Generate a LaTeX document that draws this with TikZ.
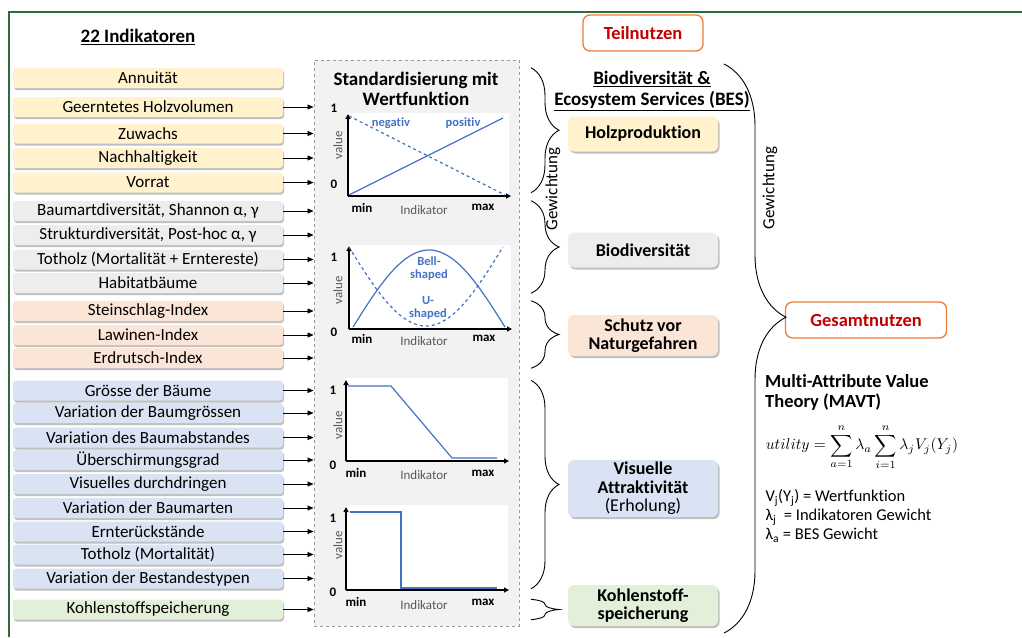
\documentclass[tikz,border=0pt]{standalone}
\usepackage{graphicx}
\usepackage{fontspec}
\setmainfont{Carlito}[Ligatures=NoCommon]
\usetikzlibrary{arrows.meta,shadows,decorations.pathreplacing}
\definecolor{holzfill}{HTML}{FFF2CC}
\definecolor{biofill}{HTML}{EDEDED}
\definecolor{schutzfill}{HTML}{FBE5D6}
\definecolor{visufill}{HTML}{DAE3F3}
\definecolor{kohlefill}{HTML}{E2F0D9}
\definecolor{nutzline}{HTML}{ED7D31}
\definecolor{nutztext}{HTML}{C00000}
\definecolor{chartblue}{HTML}{4472C4}
\definecolor{framegreen}{HTML}{2F6B3F}
\begin{document}
\begin{tikzpicture}[
  x=1pt, y=-1pt,
  ind/.style={rounded corners=3pt, minimum width=270pt, minimum height=20pt, inner sep=1pt, font=\fontsize{17}{18}\selectfont, drop shadow={shadow xshift=1pt, shadow yshift=-2pt, fill=black, opacity=0.25}},
  bes/.style={rounded corners=6pt, minimum width=150pt, align=center, inner sep=2pt, font=\bfseries\fontsize{18}{18.5}\selectfont, drop shadow={shadow xshift=1.5pt, shadow yshift=-2pt, fill=black, opacity=0.25}},
  nutzen/.style={draw=nutzline, line width=1.3pt, rounded corners=7pt, fill=white, text=nutztext, font=\bfseries\fontsize{18.5}{20}\selectfont, minimum height=36pt},
  arr/.style={-{Triangle[length=6pt,width=5pt]}, line width=0.6pt},
  axis/.style={-{Triangle[length=5pt,width=5pt]}, line width=1.2pt},
  curve/.style={draw=chartblue, line width=1.2pt},
  brc/.style={decorate, decoration={brace, amplitude=28pt}, line width=0.9pt},
  tick/.style={font=\bfseries\fontsize{13}{14}\selectfont},
  axlabel/.style={text=black!65, font=\fontsize{13}{14}\selectfont},
  cblue/.style={text=chartblue, align=center, font=\bfseries\fontsize{12.5}{13}\selectfont},
  gew/.style={rotate=90, font=\fontsize{17}{18}\selectfont}
]
\useasboundingbox (0,0) rectangle (1022,637);
\draw[framegreen, line width=2pt] (1022,12) -- (9,12) -- (9,637);

\node[font=\bfseries\fontsize{19}{20}\selectfont] (head) at (138,37) {\underline{22 Indikatoren}};

\node[ind, fill=holzfill] (i1) at (148,78) {Annuität};
\node[ind, fill=holzfill] (i2) at (148,107) {Geerntetes Holzvolumen};
\node[ind, fill=holzfill] (i3) at (148,133.5) {Zuwachs};
\node[ind, fill=holzfill] (i4) at (148,158) {Nachhaltigkeit};
\node[ind, fill=holzfill] (i5) at (148,182.5) {Vorrat};
\node[ind, fill=biofill] (i6) at (148,211) {Baumartdiversität, Shannon α, γ};
\node[ind, fill=biofill] (i7) at (148,235) {Strukturdiversität, Post-hoc α, γ};
\node[ind, fill=biofill] (i8) at (148,259.5) {Totholz (Mortalität + Erntereste)};
\node[ind, fill=biofill] (i9) at (148,283) {Habitatbäume};
\node[ind, fill=schutzfill] (i10) at (148,311) {Steinschlag-Index};
\node[ind, fill=schutzfill] (i11) at (148,335) {Lawinen-Index};
\node[ind, fill=schutzfill] (i12) at (148,358) {Erdrutsch-Index};
\node[ind, fill=visufill] (i13) at (148,390.5) {Grösse der Bäume};
\node[ind, fill=visufill] (i14) at (148,413) {Variation der Baumgrössen};
\node[ind, fill=visufill] (i15) at (148,437.5) {Variation des Baumabstandes};
\node[ind, fill=visufill] (i16) at (148,460) {Überschirmungsgrad};
\node[ind, fill=visufill] (i17) at (148,484) {Visuelles durchdringen};
\node[ind, fill=visufill] (i18) at (148,508) {Variation der Baumarten};
\node[ind, fill=visufill] (i19) at (148,531.5) {Ernterückstände};
\node[ind, fill=visufill] (i20) at (148,554.5) {Totholz (Mortalität)};
\node[ind, fill=visufill] (i21) at (148,578.5) {Variation der Bestandestypen};
\node[ind, fill=kohlefill] (i22) at (148,609.5) {Kohlenstoffspeicherung};

\node[draw=black!40, dashed, line width=1pt, fill=black!5, minimum width=205pt, minimum height=566pt] (std) at (416.5,343) {};
\node[align=center, font=\bfseries\fontsize{19}{20}\selectfont] (stdtitle) at (416,89) {Standardisierung mit\\Wertfunktion};

\draw[arr] (i2.east) -- (i2.east -| std.west);
\draw[arr] (i3.east) -- (i3.east -| std.west);
\draw[arr] (i4.east) -- (i4.east -| std.west);
\draw[arr] (i5.east) -- (i5.east -| std.west);
\draw[arr] (i6.east) -- (i6.east -| std.west);
\draw[arr] (i7.east) -- (i7.east -| std.west);
\draw[arr] (i8.east) -- (i8.east -| std.west);
\draw[arr] (i9.east) -- (i9.east -| std.west);
\draw[arr] (i10.east) -- (i10.east -| std.west);
\draw[arr] (i11.east) -- (i11.east -| std.west);
\draw[arr] (i12.east) -- (i12.east -| std.west);
\draw[arr] (i13.east) -- (i13.east -| std.west);
\draw[arr] (i14.east) -- (i14.east -| std.west);
\draw[arr] (i15.east) -- (i15.east -| std.west);
\draw[arr] (i16.east) -- (i16.east -| std.west);
\draw[arr] (i17.east) -- (i17.east -| std.west);
\draw[arr] (i18.east) -- (i18.east -| std.west);
\draw[arr] (i19.east) -- (i19.east -| std.west);
\draw[arr] (i20.east) -- (i20.east -| std.west);
\draw[arr] (i21.east) -- (i21.east -| std.west);
\draw[arr] (i22.east) -- (i22.east -| std.west);

\fill[white] (347,113) rectangle (509,196);
\draw[axis] (348,196) -- (348,114);
\draw[axis] (348,196) -- (511,196);
\draw[curve] (349,195) -- (503,118);
\draw[curve, dashed] (349,116) -- (505,195);
\node[tick] (c1one) at (334,108) {1};
\node[tick] (c1zero) at (334,184) {0};
\node[axlabel, rotate=90] (c1val) at (338,145) {value};
\node[tick] (c1min) at (362,208) {min};
\node[axlabel] (c1ind) at (424,210) {Indikator};
\node[tick] (c1max) at (483,207) {max};
\node[cblue] (neg) at (391,123) {negativ};
\node[cblue] (pos) at (463,123) {positiv};

\fill[white] (348,245) rectangle (511,329);
\draw[axis] (349,329) -- (349,246);
\draw[axis] (349,329) -- (512,329);
\draw[curve] plot[domain=0:180, samples=50] ({353+0.8444*\x},{327-77*sin(\x)});
\draw[curve, dashed] plot[domain=0:180, samples=50] ({349+0.8556*\x},{247+79*sin(\x)});
\node[tick] (c2one) at (334,257) {1};
\node[tick] (c2zero) at (334,332) {0};
\node[axlabel, rotate=90] (c2val) at (338,290) {value};
\node[tick] (c2min) at (362,339) {min};
\node[axlabel] (c2ind) at (424,341) {Indikator};
\node[tick] (c2max) at (484,338) {max};
\node[cblue] (bell) at (429,269) {Bell-\\shaped};
\node[cblue] (ushape) at (428,308) {U-\\shaped};

\fill[white] (345,378) rectangle (508,461);
\draw[axis] (346,461) -- (346,380);
\draw[axis] (346,461) -- (509,461);
\draw[curve] (348,386) -- (391,386) -- (452,458) -- (497,458);
\node[tick] (c3one) at (333,390) {1};
\node[tick] (c3zero) at (333,465) {0};
\node[axlabel, rotate=90] (c3val) at (338,425) {value};
\node[tick] (c3min) at (356,473) {min};
\node[axlabel] (c3ind) at (424,475) {Indikator};
\node[tick] (c3max) at (483,473) {max};

\fill[white] (345,505) rectangle (508,590);
\draw[axis] (346,590) -- (346,507);
\draw[axis] (346,590) -- (509,590);
\draw[curve] (350,512) -- (401,512) -- (401,588) -- (497,588);
\node[tick] (c4one) at (333,518) {1};
\node[tick] (c4zero) at (333,592) {0};
\node[axlabel, rotate=90] (c4val) at (338,545) {value};
\node[tick] (c4min) at (356,602) {min};
\node[axlabel] (c4ind) at (424,605) {Indikator};
\node[tick] (c4max) at (483,602) {max};

\node[nutzen, minimum width=120pt] (teil) at (643,33) {Teilnutzen};
\node[align=center, font=\bfseries\fontsize{19}{21}\selectfont] (bestitle) at (652,91) {\underline{Biodiversität \&}\\\underline{Ecosystem Services (BES)}};
\node[bes, fill=holzfill, minimum height=35pt] (holz) at (643,134) {Holzproduktion};
\node[bes, fill=biofill, minimum height=35pt] (bio) at (643,250) {Biodiversität};
\node[bes, fill=schutzfill, minimum height=41pt] (schutz) at (643,335.5) {Schutz vor\\Naturgefahren};
\node[bes, fill=visufill, minimum height=57pt] (visu) at (643,488.5) {Visuelle\\Attraktivität\\{\mdseries(Erholung)}};
\node[bes, fill=kohlefill, minimum height=41pt] (kohle) at (643,605.5) {Kohlenstoff-\\speicherung};

\coordinate (bx) at (531,0);
\draw[brc] (bx |- i1.north) -- (bx |- i5.south);
\draw[brc] (bx |- i6.north) -- (bx |- i9.south);
\draw[brc] (bx |- i10.north) -- (bx |- i12.south);
\draw[brc] (bx |- i13.north) -- (bx |- i21.south);
\draw[brc] (bx |- i22.north) -- (bx |- i22.south);
\node[gew] (gew1) at (553,189) {Gewichtung};

\node[nutzen, minimum width=161pt] (gesamt) at (866,320) {Gesamtnutzen};
\coordinate (gtop) at (724,64);
\coordinate (gbot) at (724,633);
\draw[decorate, decoration={brace, amplitude=62pt, aspect=0.445}, line width=0.9pt] (gtop) -- (gbot);
\node[gew] (gew2) at (770,188) {Gewichtung};

\node[anchor=west, align=left, inner sep=0pt, font=\bfseries\fontsize{18.5}{20}\selectfont] (mavt) at (765,392) {Multi-Attribute Value\\Theory (MAVT)};
\node[inner sep=0pt, font=\fontsize{10}{12}\selectfont] (formel) at (862,447) {\scalebox{1.55}{$\displaystyle utility=\sum_{a=1}^{n}\lambda_a\sum_{i=1}^{n}\lambda_j V_j(Y_j)$}};
\node[anchor=west, align=left, font=\fontsize{16.5}{19}\selectfont] (defs) at (762,516) {V\textsubscript{j}(Y\textsubscript{j}) = Wertfunktion\\λ\textsubscript{j}\ \ = Indikatoren Gewicht\\λ\textsubscript{a} = BES Gewicht};
\end{tikzpicture}
\end{document}
